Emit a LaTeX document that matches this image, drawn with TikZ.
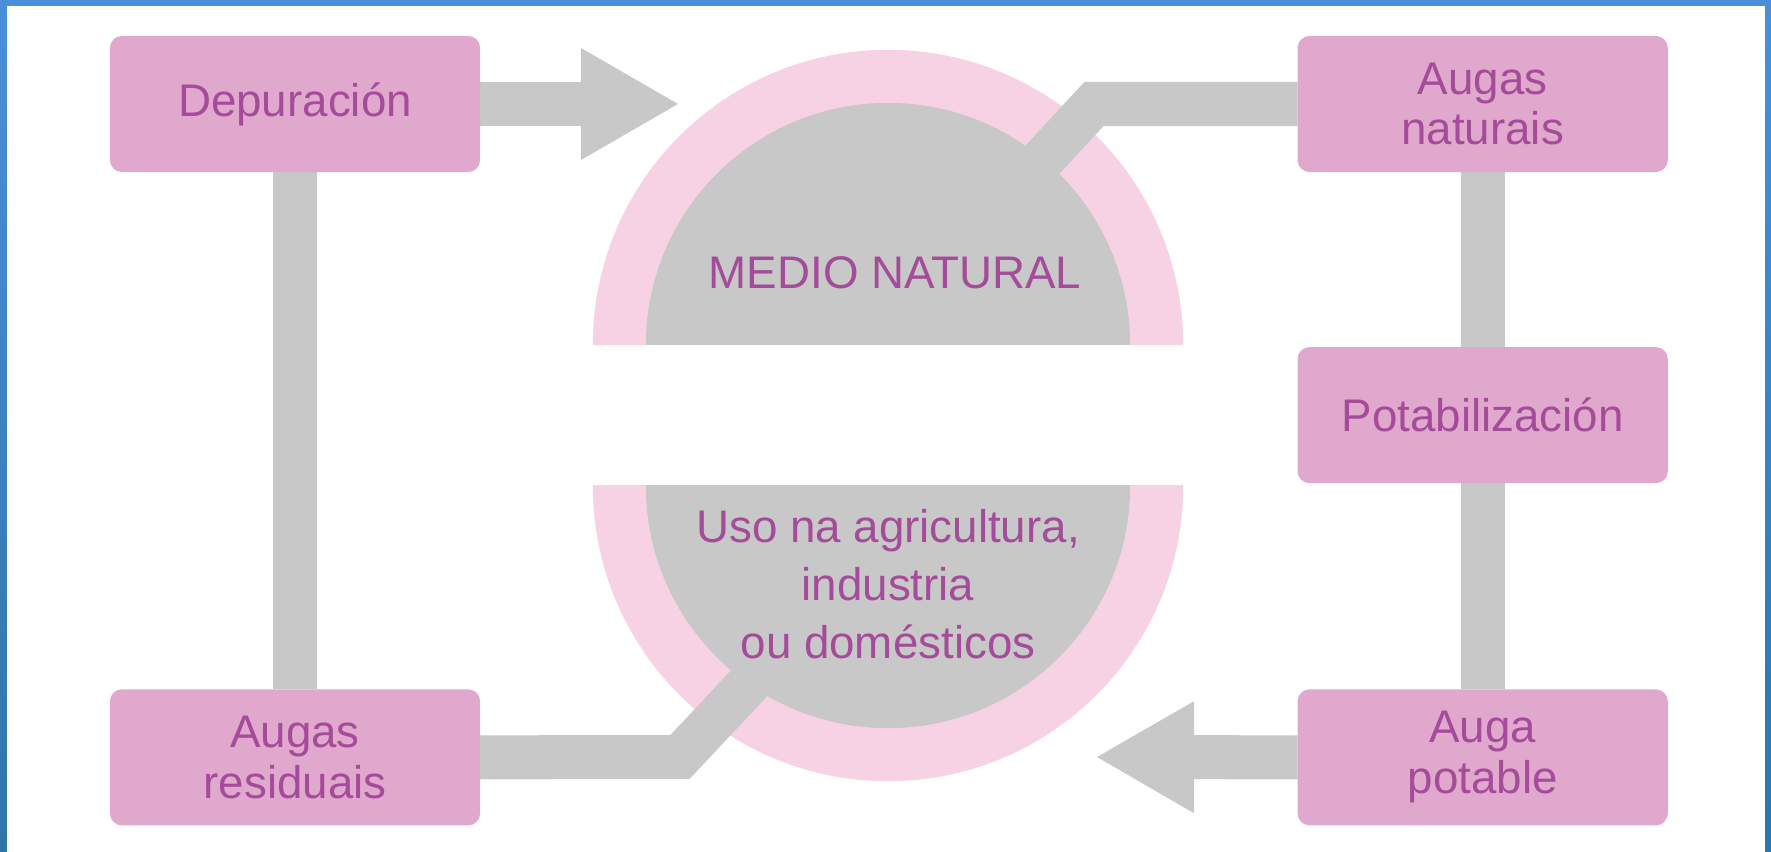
\documentclass[tikz,border=0pt]{standalone}
\usepackage{fontspec}
\setmainfont{Liberation Sans}
\usetikzlibrary{arrows.meta}
\usetikzlibrary{positioning}

\definecolor{boxpink}{HTML}{E1A8CE}
\definecolor{ringpink}{HTML}{F7D2E4}
\definecolor{bargray}{HTML}{C8C8C8}
\definecolor{textpurple}{HTML}{A44C99}
\definecolor{frametop}{HTML}{4A8FDA}
\definecolor{framebot}{HTML}{2E76A8}

\pgfdeclarelayer{back}
\pgfdeclarelayer{mid}
\pgfsetlayers{back,mid,main}

\begin{document}
\begin{tikzpicture}[x=0.01cm, y=-0.01cm,
    every node/.style={font=\fontsize{13}{14.5}\selectfont},
    stage/.style={fill=boxpink, rounded corners=0.12cm, minimum width=3.7cm,
      minimum height=1.36cm, align=center, text=textpurple, inner sep=0pt,
      outer sep=0pt},
    txt/.style={text=textpurple, align=center, inner sep=0pt},
    bar/.style={draw=bargray, line width=0.44cm},
    bigarrow/.style={bar, -{Triangle[length=0.97cm, width=1.12cm, line width=0pt]}}]
    \useasboundingbox (0,0) rectangle (1771,852);

    % the five stages
    \node[stage] (dep) at (295,104) {Depuración};
    \node[stage, right=8.17cm of dep] (nat) {Augas\\naturais};
    \node[stage, below=1.75cm of nat] (pot) {Potabilización};
    \node[stage, below=2.06cm of pot] (ap) {Auga\\potable};
    \node[stage, left=8.17cm of ap] (res) {Augas\\residuais};

    % the two halves of the circle
    \coordinate (up) at (888,345);
    \coordinate (lo) at (888,486);
    \node[txt, anchor=base] (medio) at (895,289) {MEDIO NATURAL};
    \node[txt, font=\fontsize{13}{16.5}\selectfont] (uso) at (888,584)
        {Uso na agricultura,\\industria\\ou domésticos};

    \coordinate (nbend) at (1094,104);
    \coordinate (nend) at (1033,170);
    \coordinate (rbend) at (680,757);
    \coordinate (rend) at (769,662);
    \coordinate (deptip) at (678,104);
    \coordinate (aptip) at (1097,757);

    \begin{pgfonlayer}{back}
        \fill[top color=frametop, bottom color=framebot] (0,0) rectangle (1771,852);
        \fill[white] (7,6) rectangle (1765,852);
        \begin{scope}
            \clip (500,0) rectangle (1300,345);
            \fill[ringpink] (up) circle[radius=2.95cm];
            \fill[bargray] (up) circle[radius=2.42cm];
        \end{scope}
        \begin{scope}
            \clip (500,486) rectangle (1300,852);
            \fill[ringpink] (lo) circle[radius=2.95cm];
            \fill[bargray] (lo) circle[radius=2.42cm];
        \end{scope}
    \end{pgfonlayer}

    \begin{pgfonlayer}{mid}
        \draw[bar] (dep) -- (res);
        \draw[bar] (nat) -- (pot);
        \draw[bar] (pot) -- (ap);
        \draw[bar, line join=miter] (nat.west) -- (nbend) -- (nend);
        \draw[bar, line join=miter] (res.east) -- (rbend) -- (rend);
        \draw[bigarrow] (dep.east) -- (deptip);
        \draw[bigarrow] (ap.west) -- (aptip);
    \end{pgfonlayer}
\end{tikzpicture}
\end{document}
